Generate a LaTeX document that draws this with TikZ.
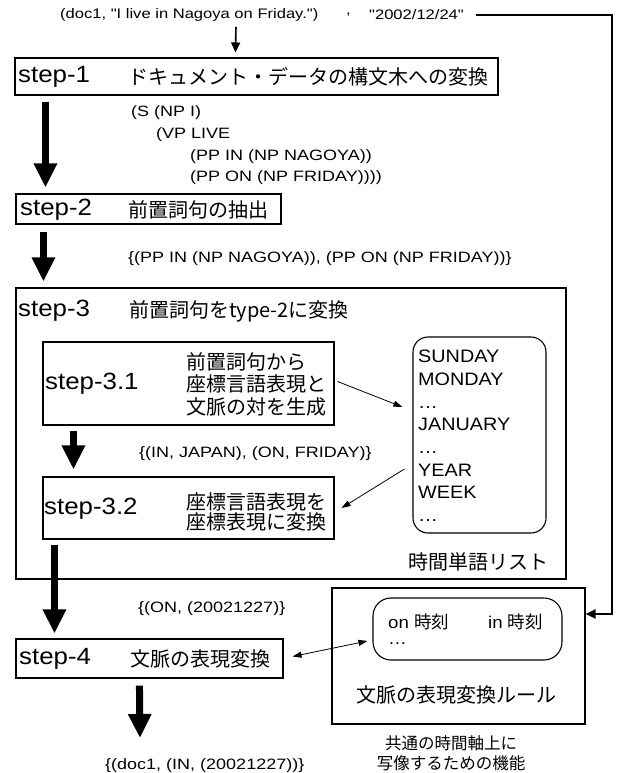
\documentclass[tikz,border=0pt]{standalone}
\usepackage{fontspec}
\setmainfont{Liberation Sans}
\newfontfamily\lat{Liberation Sans}[FakeStretch=1.2]
\newfontfamily\latb{Liberation Sans}[FakeStretch=1.1]
\newfontfamily\jp{Noto Sans CJK JP}
\usetikzlibrary{arrows.meta}
\begin{document}
\begin{tikzpicture}[x=1pt,y=-1pt,
  box/.style={draw, line width=1.1pt, inner sep=0pt},
  rbox/.style={box, rounded corners=15pt},
  txt/.style={inner sep=0pt, anchor=west},
  sm/.style={font=\lat\fontsize{15}{18}\selectfont},
  topt/.style={font=\lat\fontsize{13.8}{16}\selectfont},
  stp/.style={font=\latb\fontsize{23.5}{26}\selectfont},
  jpt/.style={inner sep=0pt, font=\jp\fontsize{20}{22}\selectfont},
  bigarrow/.style={line width=7pt, -{Triangle[width=22pt,length=24pt]}},
  thinarr/.style={line width=0.8pt, -{Triangle[width=6pt,length=9pt]}},
  dblarr/.style={line width=0.8pt, {Triangle[width=6pt,length=9pt]}-{Triangle[width=6pt,length=9pt]}},
  conn/.style={line width=2pt, -{Triangle[width=9pt,length=10pt]}},
  smallarr/.style={line width=1.6pt, -{Triangle[width=9pt,length=10pt]}}
]
\useasboundingbox (0,0) rectangle (620,773);

% top line
\node[txt,topt] (doc) at (60,15) {(doc1, "I live in Nagoya on Friday.")};
\node[txt,topt] (comma) at (346,15) {,};
\node[txt,topt] (date) at (369,15) {"2002/12/24"};
\coordinate (corner) at (612,15);

% step-1
\node[box, minimum width=483pt, minimum height=37pt] (s1) at (256.5,76.5) {};
\node[txt,stp] (s1l) at (18,77) {step-1};
\node[txt,jpt] (s1t) at (128,77) {ドキュメント・データの構文木への変換};

% tree
\node[txt,sm] (t1) at (131,113) {(S (NP I)};
\node[txt,sm] (t2) at (156,135) {(VP LIVE};
\node[txt,sm] (t3) at (190,157) {(PP IN (NP NAGOYA))};
\node[txt,sm] (t4) at (190,178) {(PP ON (NP FRIDAY))))};

% step-2
\node[box, minimum width=265pt, minimum height=30pt] (s2) at (148.5,209) {};
\node[txt,stp] (s2l) at (20,210) {step-2};
\node[txt,jpt] (s2t) at (128,210) {前置詞句の抽出};
\node[txt,sm] (pp) at (128,259) {\{(PP IN (NP NAGOYA)), (PP ON (NP FRIDAY))\}};

% step-3
\node[box, minimum width=550pt, minimum height=291pt] (s3) at (291,433.5) {};
\node[txt,stp] (s3l) at (18,311) {step-3};
\node[txt,jpt] (s3t) at (129,311) {前置詞句をtype-2に変換};

% step-3.1
\node[box, minimum width=291pt, minimum height=83pt] (s31) at (188.5,383.5) {};
\node[txt,stp] (s31l) at (45,384) {step-3.1};
\node[txt,jpt,align=left,font=\jp\fontsize{20}{22.5}\selectfont] (s31t) at (186,384) {前置詞句から\\座標言語表現と\\文脈の対を生成};

% word list
\node[rbox, minimum width=133pt, minimum height=196pt] (lst) at (479.5,435) {};
\node[inner sep=0pt, anchor=north west, align=left, font=\latb\fontsize{18}{22.7}\selectfont] (lstt) at (418,350) {SUNDAY\\MONDAY\\…\\JANUARY\\…\\YEAR\\WEEK\\…};
\node[jpt] (lstcap) at (478,562) {時間単語リスト};

\node[txt,sm] (ja) at (139,454) {\{(IN, JAPAN), (ON, FRIDAY)\}};

% step-3.2
\node[box, minimum width=291pt, minimum height=62pt] (s32) at (188.5,508) {};
\node[txt,stp] (s32l) at (44,509) {step-3.2};
\node[txt,jpt,align=left,font=\jp\fontsize{20}{20}\selectfont] (s32t) at (186,512) {座標言語表現を\\座標表現に変換};

\node[txt,sm] (onv) at (138,609) {\{(ON, (20021227)\}};

% step-4
\node[box, minimum width=267pt, minimum height=39pt] (s4) at (149.5,658.5) {};
\node[txt,stp] (s4l) at (19,659) {step-4};
\node[txt,jpt] (s4t) at (130,659) {文脈の表現変換};

% rules
\node[box, minimum width=253pt, minimum height=136pt] (rules) at (458.5,656) {};
\node[box, rounded corners=18pt, minimum width=189pt, minimum height=62pt] (inner) at (467.5,629) {};
\node[txt,font=\latb\fontsize{17}{20}\selectfont] (on1) at (388,622) {on {\jp\fontsize{17.5}{20}\selectfont 時刻}};
\node[txt,font=\latb\fontsize{17}{20}\selectfont] (in1) at (488,622) {in {\jp\fontsize{17.5}{20}\selectfont 時刻}};
\node[txt,font=\latb\fontsize{17}{20}\selectfont] (dots) at (388,644) {…};
\node[jpt] (rt) at (456,695) {文脈の表現変換ルール};
\node[inner sep=0pt, align=center, font=\jp\fontsize{16.5}{19.5}\selectfont] (cap2) at (451,753) {共通の時間軸上に\\写像するための機能};

\node[txt,sm] (outt) at (105,766) {\{(doc1, (IN, (20021227))\}};

% connectors
\draw[smallarr] ([shift={(176,12)}]doc.west) -- ([shift={(221,-5)}]s1.north west);
\draw[bigarrow] ([shift={(31,6)}]s1.south west) -- ([shift={(30,-6)}]s2.north west);
\draw[bigarrow] ([shift={(28,7)}]s2.south west) -- ([shift={(28,-6)}]s3.north west);
\draw[bigarrow] ([shift={(31,5)}]s31.south west) -- ([shift={(31,-7)}]s32.north west);
\draw[bigarrow] ([shift={(12,5)}]s32.south west) -- ([shift={(39,-5)}]s4.north west);
\draw[bigarrow] ([shift={(124,7)}]s4.south west) -- ([shift={(35,-28)}]outt.west);
\draw[thinarr] ([shift={(3,-2)}]s31.east) -- ([shift={(-10,-28)}]lst.west);
\draw[thinarr] ([shift={(-8,34)}]lst.west) -- ([shift={(7,0)}]s32.east);
\draw[dblarr] ([shift={(9,-2)}]s4.east) -- ([shift={(-5,12)}]inner.west);
\draw[conn] ([xshift=12pt]date.east) -- (corner) |- ([yshift=42pt]rules.east);
\end{tikzpicture}
\end{document}
